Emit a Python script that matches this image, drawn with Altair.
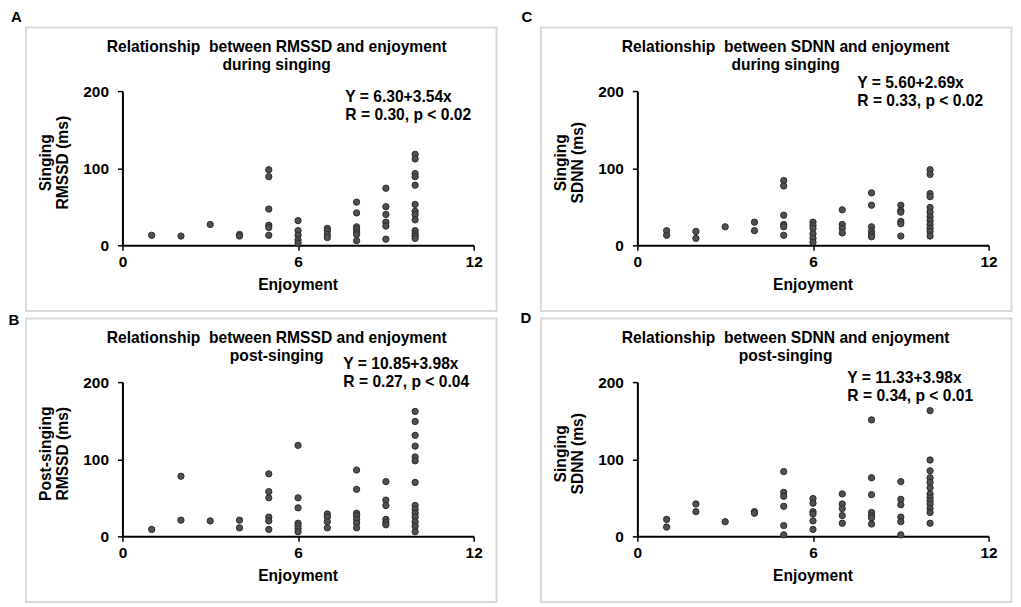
import altair as alt
import pandas as pd

FONT = "Liberation Sans"

enjoyment_levels = [1, 2, 3, 4, 5, 6, 7, 8, 9, 10]

# Values read per enjoyment level (ms)
rmssd_singing = [
    [13], [12], [27], [14, 12],
    [98, 89, 47, 26, 23, 13],
    [32, 19, 13, 7, 3],
    [22, 19, 14, 10],
    [56, 42, 24, 21, 17, 14, 6],
    [74, 50, 40, 30, 25, 8],
    [118, 112, 93, 89, 78, 53, 44, 40, 33, 19, 15, 12, 9],
]
rmssd_post = [
    [9], [78, 21], [20], [21, 11],
    [81, 58, 50, 25, 20, 9],
    [118, 50, 37, 17, 14, 10, 6],
    [29, 25, 19, 11],
    [86, 61, 30, 27, 22, 17, 11],
    [71, 47, 40, 22, 18, 15],
    [162, 149, 131, 117, 103, 98, 70, 40, 35, 30, 25, 19, 13, 6],
]
sdnn_singing = [
    [19, 13], [18, 9], [24], [30, 19],
    [84, 77, 39, 27, 24, 13],
    [30, 26, 22, 15, 9, 4],
    [46, 27, 22, 16],
    [68, 52, 24, 18, 14, 11],
    [52, 45, 43, 31, 28, 12],
    [98, 92, 67, 63, 49, 43, 37, 32, 27, 22, 18, 12],
]
sdnn_post = [
    [22, 12], [42, 32], [19], [32, 30],
    [84, 57, 52, 39, 14, 2],
    [49, 43, 32, 29, 20, 9],
    [55, 42, 36, 27, 17],
    [151, 76, 54, 31, 27, 24, 16],
    [71, 48, 41, 25, 19, 2],
    [163, 99, 85, 76, 70, 63, 55, 50, 46, 42, 36, 31, 17],
]

panel_letters = ["A", "B", "C", "D"]
title_line1 = [
    "Relationship\u00a0 between RMSSD and enjoyment",
    "Relationship\u00a0 between RMSSD and enjoyment",
    "Relationship\u00a0 between SDNN and enjoyment",
    "Relationship\u00a0 between SDNN and enjoyment",
]
title_line2 = ["during singing", "post-singing", "during singing", "post-singing"]
y_title1 = ["Singing", "Post-singing", "Singing", "Singing"]
y_title2 = ["RMSSD (ms)", "RMSSD (ms)", "SDNN (ms)", "SDNN (ms)"]
eq_line1 = ["Y = 6.30+3.54x", "Y = 10.85+3.98x", "Y = 5.60+2.69x", "Y = 11.33+3.98x"]
eq_line2 = ["R = 0.30, p < 0.02", "R = 0.27, p < 0.04", "R = 0.33, p < 0.02", "R = 0.34, p < 0.01"]
x_ticks = [0, 6, 12]
y_ticks = [0, 100, 200]
x_title = "Enjoyment"

W, H = 353, 155
FS = 15.7

# layout positions relative to each panel's plot area (pixels)
title_x = [155, 155, 149, 149]
eq_x = [224, 222, 221, 211]
eq_y = [6, -18, -8, -4]
label_pos = [(-106.5, -74), (-109, -62.5), (-111, -74), (-112, -64)]

one = pd.DataFrame({"k": [0]})


def text_layer(txt, x, y, size=FS, align="center", angle=0, baseline="middle"):
    return alt.Chart(one).mark_text(
        text=txt, font=FONT, fontSize=size, fontWeight="bold", color="black",
        align=align, baseline=baseline, angle=angle,
    ).encode(x=alt.value(x), y=alt.value(y))


def panel(i, values, anchor=False):
    xs, ys = [], []
    for lvl, vals in zip(enjoyment_levels, values):
        for v in vals:
            xs.append(lvl)
            ys.append(v)
    df = pd.DataFrame({"Enjoyment": xs, "Value": ys})

    frame = alt.Chart(one).mark_rect(
        fillOpacity=0, stroke="#d9d9d9", strokeWidth=2
    ).encode(x=alt.value(-97), x2=alt.value(376), y=alt.value(-64), y2=alt.value(221))

    pts = alt.Chart(df).mark_point(
        filled=True, size=40, fill="#505050", stroke="#2b2b2b", strokeWidth=1, opacity=1
    ).encode(
        x=alt.X("Enjoyment:Q", scale=alt.Scale(domain=[0, 12], nice=False),
                axis=alt.Axis(values=x_ticks, title=None)),
        y=alt.Y("Value:Q", scale=alt.Scale(domain=[0, 200], nice=False),
                axis=alt.Axis(values=y_ticks, title=None)),
    )

    layers = [frame]
    if anchor:
        layers.append(
            alt.Chart(one).mark_rect(fillOpacity=0, strokeOpacity=0).encode(
                x=alt.value(-114), x2=alt.value(-113), y=alt.value(-82), y2=alt.value(-81))
        )
    lx, ly = label_pos[i]
    layers += [
        pts,
        text_layer(panel_letters[i], lx, ly, size=15),
        text_layer(title_line1[i], title_x[i], -44),
        text_layer(title_line2[i], title_x[i], -26),
        text_layer(eq_line1[i], eq_x[i], eq_y[i], align="left"),
        text_layer(eq_line2[i], eq_x[i], eq_y[i] + 18, align="left"),
        text_layer(y_title1[i], -77, 72, angle=270),
        text_layer(y_title2[i], -60, 72, angle=270),
        text_layer(x_title, W / 2, H + 40),
    ]
    return alt.layer(*layers).properties(width=W, height=H)


pA = panel(0, rmssd_singing, anchor=True)
pB = panel(1, rmssd_post)
pC = panel(2, sdnn_singing)
pD = panel(3, sdnn_post)

chart = alt.concat(
    pA, pC, pB, pD, columns=2,
    spacing=alt.RowColnumber(row=137.5, column=164.5),
    bounds="flush",
).properties(padding=0).configure_view(stroke=None).configure_axis(
    grid=False,
    domainColor="black", domainWidth=2,
    tickColor="black", tickWidth=1.5, tickSize=5,
    labelFont=FONT, labelFontSize=15.5, labelFontWeight="bold", labelColor="black",
    labelFlush=False,
).configure_axisX(labelPadding=4).configure_axisY(labelPadding=9)

chart.save("out.html", embed_options={"renderer": "svg", "actions": False})
